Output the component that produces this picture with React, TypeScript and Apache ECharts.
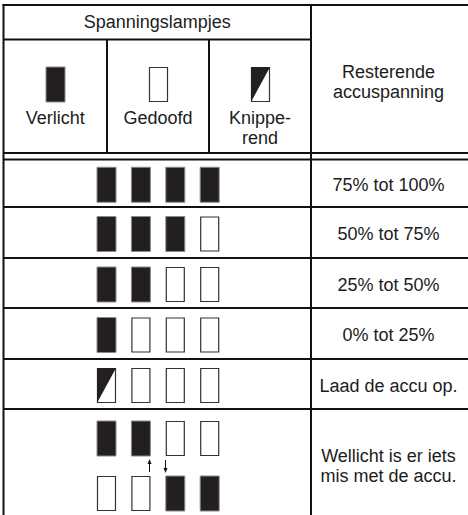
import React, { useEffect, useRef } from "react";
import * as echarts from "echarts";

// ---- data ----
const headerTitle = "Spanningslampjes";
const legendStates = ["on", "off", "blink"];
const legendLabels = ["Verlicht", "Gedoofd", "Knippe-\nrend"];
const rightHeader = "Resterende\naccuspanning";
const rowPatterns = [
  ["on", "on", "on", "on"],
  ["on", "on", "on", "off"],
  ["on", "on", "off", "off"],
  ["on", "off", "off", "off"],
  ["blink", "off", "off", "off"],
];
const rowLabels = ["75% tot 100%", "50% tot 75%", "25% tot 50%", "0% tot 25%", "Laad de accu op."];
const lastRowTop = ["on", "on", "off", "off"];
const lastRowBottom = ["off", "off", "on", "on"];
const lastRowLabel = "Wellicht is er iets\nmis met de accu.";

// ---- layout ----
const W = 468;
const H = 515;
const LEFT = 3.5;
const RIGHT = 470;
const TOP = 5;
const MIDX = 311;
const SUBX = [107, 209];
const HEAD_LINE = 39.5;
const DBL = [153, 159.5];
const ROW_LINES = [159.5, 207, 258, 308, 359, 409];
const BAR_W = 19;
const BAR_H = 35;
const BAR_X0 = 97;
const BAR_DX = 34.4;
const FONT = '18px "Liberation Sans", Arial, sans-serif';
const INK = "#1c1c1c";

function lamp(state: string, x: number, y: number): any[] {
  if (state === "on") {
    return [{ type: "rect", shape: { x, y, width: BAR_W, height: BAR_H }, style: { fill: "#231f20", stroke: "#8a8a8a", lineWidth: 1 } }];
  }
  if (state === "off") {
    return [{ type: "rect", shape: { x: x + 0.5, y: y + 0.5, width: BAR_W - 1, height: BAR_H - 1 }, style: { fill: "#fff", stroke: "#333", lineWidth: 1.2 } }];
  }
  return [
    { type: "rect", shape: { x: x + 0.5, y: y + 0.5, width: BAR_W - 1, height: BAR_H - 1 }, style: { fill: "#fff", stroke: "#333", lineWidth: 1.2 } },
    { type: "polygon", shape: { points: [[x, y], [x + BAR_W, y], [x, y + BAR_H]] }, style: { fill: "#231f20" } },
  ];
}

function text(t: string, x: number, y: number): any {
  return {
    type: "text",
    x,
    y,
    style: {
      text: t,
      font: FONT,
      fill: INK,
      align: "center",
      verticalAlign: "middle",
      textAlign: "center",
      textVerticalAlign: "middle",
      lineHeight: 20,
    },
  };
}

function hline(y: number, x1: number, x2: number): any {
  return { type: "line", shape: { x1, y1: y, x2, y2: y }, style: { stroke: "#111", lineWidth: 2 } };
}
function vline(x: number, y1: number, y2: number): any {
  return { type: "line", shape: { x1: x, y1, x2: x, y2 }, style: { stroke: "#111", lineWidth: 2 } };
}

function buildGraphic(): any[] {
  const els: any[] = [];
  // grid lines
  els.push(hline(TOP, LEFT - 1, RIGHT));
  els.push(vline(LEFT, TOP - 1, H + 5));
  els.push(vline(MIDX, TOP, H + 5));
  els.push(hline(HEAD_LINE, LEFT, MIDX));
  SUBX.forEach((x) => els.push(vline(x, HEAD_LINE, DBL[0])));
  els.push(hline(DBL[0], LEFT, RIGHT));
  ROW_LINES.forEach((y) => els.push(hline(y, LEFT, RIGHT)));

  // header
  const rightCx = (MIDX + W) / 2 - 1;
  els.push(text(headerTitle, (LEFT + MIDX) / 2, (TOP + HEAD_LINE) / 2));
  els.push(text(rightHeader, rightCx, 82));
  const colEdges = [LEFT, SUBX[0], SUBX[1], MIDX];
  const iconX = [46, 149, 251];
  legendStates.forEach((s, i) => {
    els.push(...lamp(s, iconX[i], 67));
    els.push(text(legendLabels[i], (colEdges[i] + colEdges[i + 1]) / 2, legendLabels[i].includes("\n") ? 128 : 118));
  });

  // rows
  rowPatterns.forEach((pat, r) => {
    const top = ROW_LINES[r];
    const bot = ROW_LINES[r + 1];
    const cy = (top + bot) / 2 + 1.5;
    pat.forEach((s, j) => els.push(...lamp(s, BAR_X0 + BAR_DX * j, cy - BAR_H / 2)));
    els.push(text(rowLabels[r], rightCx, cy));
  });

  // last row
  lastRowTop.forEach((s, j) => els.push(...lamp(s, BAR_X0 + BAR_DX * j, 421)));
  lastRowBottom.forEach((s, j) => els.push(...lamp(s, BAR_X0 + BAR_DX * j, 476)));
  els.push(text(lastRowLabel, rightCx, 466));

  // arrows
  const ax1 = 149.5;
  const ax2 = 165.5;
  els.push({ type: "line", shape: { x1: ax1, y1: 462, x2: ax1, y2: 472 }, style: { stroke: "#111", lineWidth: 1 } });
  els.push({ type: "polygon", shape: { points: [[ax1 - 2, 464], [ax1 + 2, 464], [ax1, 459]] }, style: { fill: "#111" } });
  els.push({ type: "line", shape: { x1: ax2, y1: 460, x2: ax2, y2: 470 }, style: { stroke: "#111", lineWidth: 1 } });
  els.push({ type: "polygon", shape: { points: [[ax2 - 2, 468], [ax2 + 2, 468], [ax2, 473]] }, style: { fill: "#111" } });

  return els;
}

export default function App() {
  const ref = useRef<HTMLDivElement>(null);
  useEffect(() => {
    if (!ref.current) return;
    const chart = echarts.init(ref.current, undefined, { renderer: "svg" });
    chart.setOption({
      animation: false,
      backgroundColor: "#ffffff",
      graphic: { elements: buildGraphic() },
    });
    return () => chart.dispose();
  }, []);
  return (
    <div
      ref={ref}
      style={{ position: "fixed", left: 0, top: 0, width: W, height: H, background: "#fff" }}
    />
  );
}
